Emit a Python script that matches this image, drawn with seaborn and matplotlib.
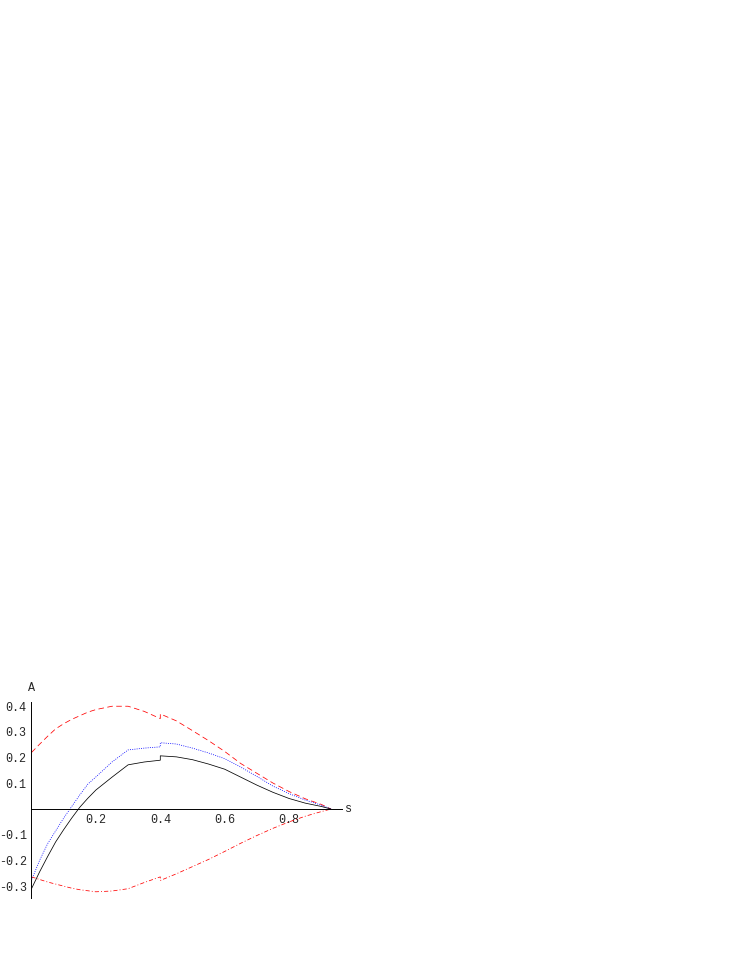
import seaborn as sns
import matplotlib.pyplot as plt

# sample points along s (0.4 appears twice: the curves jump there)
s = [0, 0.025, 0.05, 0.075, 0.1, 0.125, 0.15, 0.175, 0.2, 0.25, 0.3, 0.35, 0.4,
     0.4, 0.45, 0.5, 0.55, 0.6, 0.65, 0.7, 0.75, 0.8, 0.85, 0.9, 0.93]

# red dashed (upper bound)
a_upper = [0.22, 0.252, 0.283, 0.312, 0.332, 0.349, 0.363, 0.377, 0.387, 0.40, 0.40, 0.38, 0.352,
           0.37, 0.343, 0.305, 0.266, 0.224, 0.177, 0.139, 0.101, 0.068, 0.04, 0.018, 0.0]
# blue dotted
a_dotted = [-0.277, -0.2, -0.135, -0.085, -0.035, 0.01, 0.055, 0.097, 0.125, 0.183, 0.23, 0.237, 0.242,
            0.258, 0.253, 0.237, 0.218, 0.196, 0.163, 0.127, 0.089, 0.06, 0.035, 0.015, 0.0]
# black solid
a_solid = [-0.31, -0.245, -0.185, -0.128, -0.08, -0.035, 0.007, 0.042, 0.074, 0.124, 0.172, 0.183, 0.19,
           0.207, 0.203, 0.192, 0.175, 0.155, 0.124, 0.093, 0.065, 0.041, 0.023, 0.01, 0.0]
# red dash-dot (lower bound)
a_lower = [-0.264, -0.274, -0.284, -0.292, -0.30, -0.308, -0.314, -0.318, -0.322, -0.319, -0.31, -0.286, -0.264,
           -0.278, -0.252, -0.224, -0.196, -0.165, -0.133, -0.103, -0.075, -0.05, -0.028, -0.01, 0.0]

x_ticks = [0.2, 0.4, 0.6, 0.8]
x_labels = ["0.2", "0.4", "0.6", "0.8"]
y_ticks = [-0.3, -0.2, -0.1, 0.1, 0.2, 0.3, 0.4]
y_labels = ["-0.3", "-0.2", "-0.1", "0.1", "0.2", "0.3", "0.4"]

sns.set_style("white")
plt.rcParams['font.family'] = ['Liberation Mono', 'DejaVu Sans']
plt.rcParams['lines.scale_dashes'] = False

fig = plt.figure(figsize=(7.47, 9.67), dpi=100)
ax = fig.add_axes([31.5 / 747, (967 - 897.7) / 967, 0.965 * 322 / 747, 0.76 * 257 / 967])

lw = 0.55
sns.lineplot(x=s, y=a_upper, ax=ax, color='red', estimator=None, sort=False,
             linewidth=lw, linestyle=(0, (4, 2.5)))
sns.lineplot(x=s, y=a_dotted, ax=ax, color='blue', estimator=None, sort=False,
             linewidth=lw, linestyle=(0, (0.7, 0.9)))
sns.lineplot(x=s, y=a_solid, ax=ax, color='black', estimator=None, sort=False,
             linewidth=lw)
sns.lineplot(x=s, y=a_lower, ax=ax, color='red', estimator=None, sort=False,
             linewidth=lw, linestyle=(0, (3, 1.5, 0.7, 1.5)))

ax.set_xlim(0, 0.965)
ax.set_ylim(-0.345, 0.415)

for side in ['top', 'right']:
    ax.spines[side].set_visible(False)
ax.spines['left'].set_position(('data', 0))
ax.spines['bottom'].set_position(('data', 0))
for side in ['left', 'bottom']:
    ax.spines[side].set_linewidth(0.7)
    ax.spines[side].set_color('black')

ax.set_xticks(x_ticks)
ax.set_xticklabels(x_labels)
ax.set_yticks(y_ticks)
ax.set_yticklabels(y_labels)
ax.set_xticks([i * 0.05 for i in range(1, 20) if i % 4 != 0], minor=True)
ax.set_yticks([i * 0.02 for i in range(-17, 21) if i % 5 != 0], minor=True)
ax.tick_params(which='major', direction='in', length=3, width=0.6, color='black',
               labelsize=8.5, pad=3.5)
ax.tick_params(which='minor', direction='in', length=1.6, width=0.5, color='black')

ax.set_xlabel("")
ax.set_ylabel("")
ax.text(0.983, 0, "s", ha='center', va='center', fontsize=8.5, clip_on=False)
ax.text(0, 0.471, "A", ha='center', va='center', fontsize=8.5, clip_on=False)

fig.savefig("out.png", dpi=100)
